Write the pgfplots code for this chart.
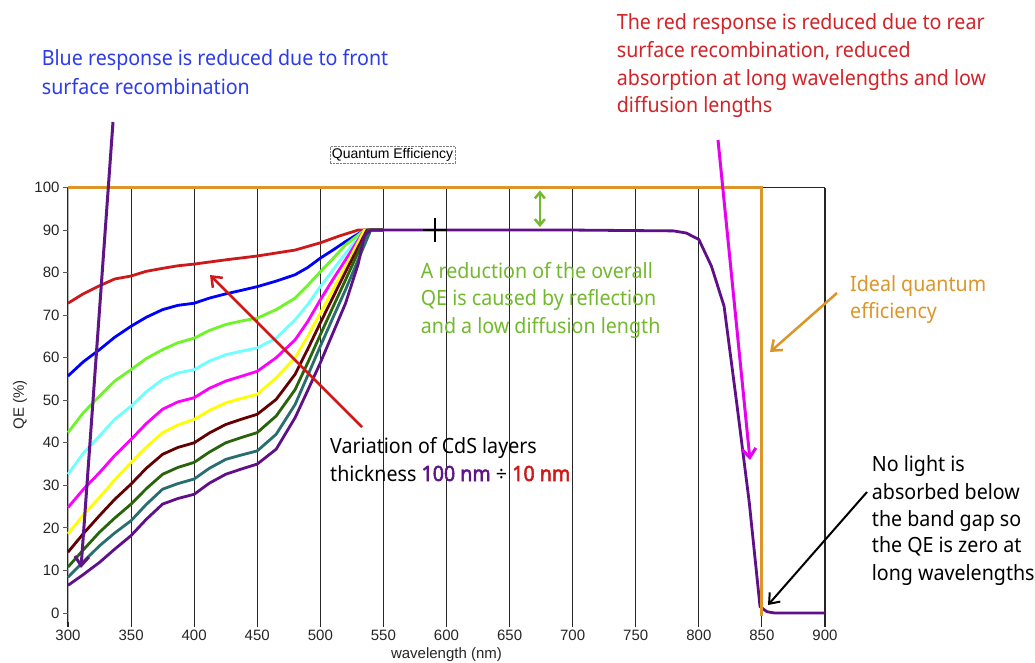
\documentclass[border=0pt]{standalone}
\usepackage{pgfplots}
\pgfplotsset{compat=1.18}
\usepackage{fontspec}
\setmainfont{Noto Sans}[FakeStretch=0.935]
\newfontfamily\annbold{Noto Sans}[FakeStretch=0.935, FakeBold=2.5]
\newfontfamily\tickfont{Liberation Sans}
\usetikzlibrary{arrows.meta}
\definecolor{textblue}{RGB}{45,60,235}
\definecolor{textred}{RGB}{210,35,40}
\definecolor{textgreen}{RGB}{115,185,45}
\definecolor{orangeC}{RGB}{220,150,40}
\definecolor{purpleC}{RGB}{95,20,135}
\definecolor{magC}{RGB}{230,0,240}
\definecolor{c1}{RGB}{205,25,25}
\definecolor{c2}{RGB}{0,0,255}
\definecolor{c3}{RGB}{110,245,40}
\definecolor{c4}{RGB}{110,255,255}
\definecolor{c5}{RGB}{255,0,255}
\definecolor{c6}{RGB}{255,255,0}
\definecolor{c7}{RGB}{100,0,0}
\definecolor{c8}{RGB}{40,100,10}
\definecolor{c9}{RGB}{40,110,110}
\definecolor{c10}{RGB}{95,15,135}
\newcommand\ann{\fontsize{21}{28}\selectfont}
\begin{document}
\begin{tikzpicture}[x=1pt,y=-1pt]
\useasboundingbox (0,0) rectangle (1035,663);
\fill[white] (0,0) rectangle (1035,663);
\coordinate (AX) at (68,621.5);
\begin{axis}[
 at={(AX)}, anchor=south west, scale only axis, width=757pt, height=434pt,
 xmin=300, xmax=900, ymin=-2, ymax=100,
 xtick={300,350,...,900}, ytick={0,10,...,100},
 axis x line*=bottom, axis y line*=left,
 x axis line style={draw=none}, y axis line style={draw=gray!60, line width=0.8pt, -},
 xmajorgrids, grid style={black!85, line width=1.1pt},
 tick align=outside, major tick length=5pt,
 xtick style={black!85, line width=1.1pt}, ytick style={gray!70!black, line width=0.8pt},
 ticklabel style={font=\tickfont\fontsize{15}{16}\selectfont, text=black!85},
 /pgf/number format/assume math mode=true,
 clip=false, every axis plot/.append style={line width=2.8pt, line join=round},
]
\draw[black!85, line width=1.1pt] (axis cs:300,100) -- (axis cs:900,100);
\addplot[c1] coordinates {(300,72.8)(312,75)(325,76.9)(337,78.5)(350,79.2)(362,80.3)(375,81.0)(387,81.6)(400,82.0)(425,83.0)(450,83.9)(465,84.6)(480,85.3)(500,87.0)(515,88.6)(530,90)(550,90)};
\addplot[c2] coordinates {(300,55.7)(312,59.0)(325,61.9)(337,64.8)(350,67.4)(362,69.5)(375,71.3)(387,72.3)(400,72.8)(412,74.0)(425,75.0)(437,75.8)(450,76.7)(465,78.0)(480,79.5)(490,81.2)(500,83.4)(510,85.3)(520,87.3)(535,90)(550,90)};
\addplot[c3] coordinates {(300,42.4)(312,47.0)(325,51.0)(337,54.5)(350,57.2)(362,59.8)(375,61.9)(387,63.5)(400,64.6)(412,66.4)(425,67.8)(437,68.6)(450,69.3)(465,71.3)(480,74.0)(490,77.0)(500,80.2)(510,83.3)(520,86.5)(535,90)(550,90)};
\addplot[c4] coordinates {(300,32.6)(312,37.5)(325,41.6)(337,45.5)(350,48.6)(362,52.0)(375,54.9)(387,56.4)(400,57.2)(412,59.2)(425,60.7)(437,61.5)(450,62.3)(465,64.6)(480,68.9)(490,72.5)(500,76.7)(510,80.6)(520,84.5)(535,90)(550,90)};
\addplot[c5] coordinates {(300,24.8)(312,29.0)(325,33.0)(337,37.0)(350,40.8)(362,44.5)(375,47.9)(387,49.6)(400,50.6)(412,52.8)(425,54.5)(437,55.6)(450,56.8)(465,60.0)(480,64.2)(490,68.5)(500,73.6)(510,78.4)(520,83.0)(535,90)(550,90)};
\addplot[c6] coordinates {(300,18.6)(312,23.0)(325,27.2)(337,31.3)(350,35.4)(362,39.0)(375,42.4)(387,44.2)(400,45.5)(412,47.6)(425,49.4)(437,50.4)(450,51.4)(465,55.3)(480,60.0)(490,65.0)(500,70.5)(510,76.0)(520,81.4)(535,90)(550,90)};
\addplot[c7] coordinates {(300,14.3)(312,18.6)(325,22.9)(337,26.7)(350,30.3)(362,34.0)(375,37.3)(387,38.9)(400,40.0)(412,42.3)(425,44.3)(437,45.5)(450,46.7)(465,50.2)(480,56.1)(490,62.0)(500,68.2)(510,74.2)(520,80.2)(537,90)(550,90)};
\addplot[c8] coordinates {(300,10.8)(312,14.8)(325,19.0)(337,22.3)(350,25.6)(362,29.2)(375,32.6)(387,34.2)(400,35.4)(412,37.8)(425,40.0)(437,41.2)(450,42.4)(465,46.3)(480,52.5)(490,58.8)(500,65.4)(510,71.9)(520,78.3)(538,90)(550,90)};
\addplot[c9] coordinates {(300,8.4)(312,12.0)(325,15.8)(337,18.8)(350,21.7)(362,25.5)(375,29.1)(387,30.4)(400,31.5)(412,34.0)(425,36.1)(437,37.1)(450,38.1)(465,42.0)(480,49.0)(490,55.8)(500,62.7)(510,69.4)(520,76.0)(540,90)(550,90)};
\addplot[c10] coordinates {(300,6.5)(312,9.0)(325,11.9)(337,15.0)(350,18.2)(362,22.0)(375,25.6)(387,26.9)(400,27.9)(412,30.5)(425,32.6)(437,33.8)(450,35.0)(465,38.5)(480,45.9)(490,52.3)(500,58.8)(510,65.8)(520,72.8)(530,82)(535,88.8)(540,90)(600,90)(700,90)(780,89.8)(790,89.3)(800,87.8)(810,81.5)(820,72.1)(830,49.4)(840,25.9)(848.5,1.5)(854,0.3)(860,0)(900,0)};
\addplot[orangeC, line width=3pt, line join=miter] coordinates {(300,100)(850,100)(850,-0.8)};
\addplot[black, only marks, mark=+, mark size=12pt, line width=2pt] coordinates {(591,90)};
\draw[textgreen, line width=2.5pt, {Straight Barb[length=6pt,width=10pt]}-{Straight Barb[length=6pt,width=10pt]}] (axis cs:674,99.3) -- (axis cs:674,90.7);
\end{axis}
% axis labels and title
\node[font=\tickfont\fontsize{15}{16}\selectfont, text=black!85] at (446.5,655) {wavelength (nm)};
\node[font=\tickfont\fontsize{15}{16}\selectfont, text=black!85, rotate=90] at (20,405) {QE (\%)};
\node[font=\tickfont\fontsize{14}{15}\selectfont, draw=gray, densely dotted, inner sep=2pt] at (392.5,155) {Quantum Efficiency};
% arrows
\draw[purpleC, line width=3pt, -{Straight Barb[length=9pt,width=14pt]}] (113,122) -- (81,568);
\draw[c1, line width=2.5pt, -{Straight Barb[length=9pt,width=14pt]}] (362,427) -- (210,275);
\draw[magC, line width=3pt, -{Straight Barb[length=9pt,width=14pt]}] (718,140) -- (750,460);
\draw[orangeC, line width=2.5pt, -{Straight Barb[length=9pt,width=14pt]}] (837,293) -- (770,352);
\draw[black, line width=2pt, -{Straight Barb[length=9pt,width=14pt]}] (867,492) -- (768,605);
% annotations
\begin{scope}[every node/.style={anchor=base west, inner sep=0pt, font=\ann}]
\node[text=textblue] at (41.7,66) {Blue response is reduced due to front};
\node[text=textblue] at (41.7,95) {surface recombination};
\node[text=textred] at (616.7,30) {The red response is reduced due to rear};
\node[text=textred] at (616.7,57.7) {surface recombination, reduced};
\node[text=textred] at (616.7,85.4) {absorption at long wavelengths and low};
\node[text=textred] at (616.7,113) {diffusion lengths};
\node[text=textgreen] at (420.7,278.3) {A reduction of the overall};
\node[text=textgreen] at (420.7,305.7) {QE is caused by reflection};
\node[text=textgreen] at (420.7,333.3) {and a low diffusion length};
\node[text=orangeC] at (850,291.7) {Ideal quantum};
\node[text=orangeC] at (850,318.3) {efficiency};
\node[text=black] at (330,453.3) {Variation of CdS layers};
\node[text=black] at (330,481) {thickness \textcolor{purpleC}{\annbold 100 nm} ÷ \textcolor{c1}{\annbold 10 nm}};
\node[text=black] at (871.7,471.7) {No light is};
\node[text=black] at (871.7,499.3) {absorbed below};
\node[text=black] at (871.7,526) {the band gap so};
\node[text=black] at (871.7,552.7) {the QE is zero at};
\node[text=black] at (871.7,580) {long wavelengths};
\end{scope}
\end{tikzpicture}
\end{document}
